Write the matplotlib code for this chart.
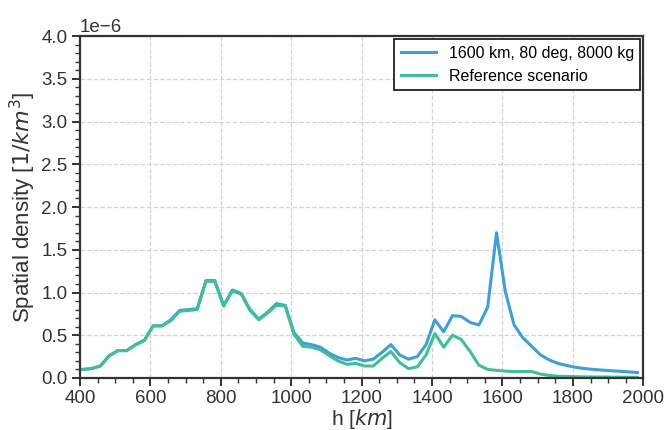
import numpy as np
import matplotlib
matplotlib.use("Agg")
import matplotlib.pyplot as plt
from matplotlib.ticker import MultipleLocator

plt.rcParams['font.family'] = ['Liberation Sans', 'DejaVu Sans']

# altitude bin centres [km]
h = np.arange(408, 2000, 25)

# spatial density, units of 1e-6 / km^3
dens_ref = [0.10, 0.11, 0.14, 0.26, 0.32, 0.32, 0.39, 0.44, 0.61, 0.61,
            0.67, 0.78, 0.79, 0.80, 1.13, 1.13, 0.84, 1.02, 0.98, 0.79,
            0.68, 0.76, 0.85, 0.84, 0.51, 0.37, 0.36, 0.33, 0.26, 0.20,
            0.16, 0.17, 0.14, 0.14, 0.23, 0.31, 0.18, 0.11, 0.13, 0.27,
            0.52, 0.36, 0.50, 0.45, 0.31, 0.15, 0.10, 0.09, 0.08, 0.075,
            0.075, 0.075, 0.045, 0.03, 0.02, 0.017, 0.015, 0.013, 0.012, 0.011,
            0.010, 0.009, 0.008, 0.007]
dens_new = [0.10, 0.11, 0.14, 0.26, 0.32, 0.32, 0.39, 0.44, 0.61, 0.61,
            0.68, 0.79, 0.80, 0.81, 1.14, 1.14, 0.85, 1.03, 0.99, 0.80,
            0.69, 0.77, 0.87, 0.85, 0.53, 0.41, 0.39, 0.36, 0.29, 0.24,
            0.21, 0.23, 0.20, 0.22, 0.30, 0.39, 0.27, 0.22, 0.25, 0.39,
            0.68, 0.54, 0.73, 0.72, 0.65, 0.62, 0.83, 1.70, 1.01, 0.62,
            0.47, 0.37, 0.27, 0.21, 0.17, 0.145, 0.125, 0.11, 0.10, 0.092,
            0.085, 0.078, 0.071, 0.063]

blue = '#3d9fdb'
green = '#3fbf95'

fig = plt.figure(figsize=(6.66, 4.30), dpi=100)
ax = fig.add_axes([0.12, 0.121, 0.846, 0.795])

ax.plot(h, np.array(dens_new) * 1e-6, color=blue, lw=2.2, label='1600 km, 80 deg, 8000 kg')
ax.plot(h, np.array(dens_ref) * 1e-6, color=green, lw=2.2, label='Reference scenario')

ax.set_xlim(400, 2000)
ax.set_ylim(0, 4e-6)
ax.xaxis.set_major_locator(MultipleLocator(200))
ax.xaxis.set_minor_locator(MultipleLocator(50))
ax.yaxis.set_major_locator(MultipleLocator(0.5e-6))
ax.yaxis.set_minor_locator(MultipleLocator(0.1e-6))

ax.grid(True, which='major', ls='--', color='#d4d4d4', lw=0.9)
ax.set_axisbelow(True)

for sp in ax.spines.values():
    sp.set_color('#333333')
    sp.set_linewidth(1.6)
ax.tick_params(which='major', length=6, width=1.4, color='#333333',
               labelsize=13.5, labelcolor='#333333', pad=3)
ax.tick_params(which='minor', length=3.5, width=1.0, color='#333333')
ax.yaxis.get_offset_text().set_fontsize(13.5)
ax.yaxis.get_offset_text().set_color('#333333')

ax.set_xlabel('h [$km$]', fontsize=15, color='#333333', labelpad=0)
ax.set_ylabel('Spatial density [$1/km^3$]', fontsize=16, color='#333333', labelpad=2)

leg = ax.legend(loc='upper right', fontsize=11.5, fancybox=False, framealpha=1,
                edgecolor='#222222', borderaxespad=0.2, handlelength=2.2)
leg.get_frame().set_linewidth(1.3)

fig.savefig('out.png', dpi=100)
